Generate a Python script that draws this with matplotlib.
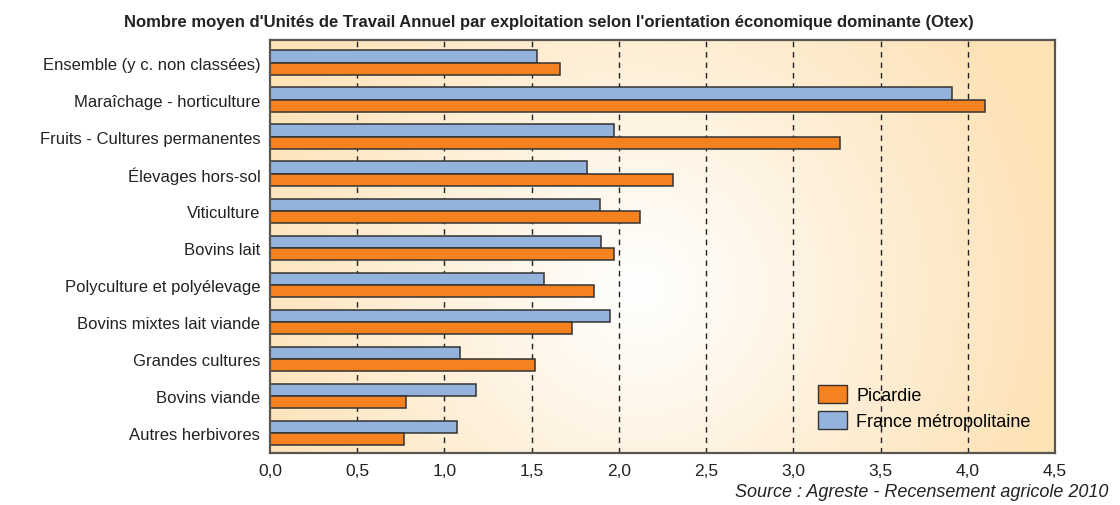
import numpy as np
import matplotlib
matplotlib.use("Agg")
import matplotlib.pyplot as plt
from matplotlib.patches import Patch
from matplotlib.colors import to_rgb

plt.rcParams['font.family'] = ['Liberation Sans Narrow', 'Liberation Sans', 'DejaVu Sans']

# Data
categories = [
    "Ensemble (y c. non classées)",
    "Maraîchage - horticulture",
    "Fruits - Cultures permanentes",
    "Élevages hors-sol",
    "Viticulture",
    "Bovins lait",
    "Polyculture et polyélevage",
    "Bovins mixtes lait viande",
    "Grandes cultures",
    "Bovins viande",
    "Autres herbivores",
]
france = [1.53, 3.91, 1.97, 1.82, 1.89, 1.90, 1.57, 1.95, 1.09, 1.18, 1.07]
picardie = [1.66, 4.10, 3.27, 2.31, 2.12, 1.97, 1.86, 1.73, 1.52, 0.78, 0.77]
xticks = [0, 0.5, 1.0, 1.5, 2.0, 2.5, 3.0, 3.5, 4.0, 4.5]

orange = "#f5821f"
blue = "#94b3dc"
edge = "#333333"

fig = plt.figure(figsize=(11.2, 5.06), dpi=100)
ax = fig.add_axes([270 / 1120, 1 - 454 / 506, 785 / 1120, 413 / 506])

# radial background gradient (white centre, light orange edges)
w, h = 785, 413
xx, yy = np.meshgrid(np.arange(w), np.arange(h))
cx, cy = 0.47 * w, 0.6 * h
d = np.sqrt((xx - cx) ** 2 + (yy - cy) ** 2) / 420.0
t = np.clip(d, 0, 1)
c_out = np.array(to_rgb("#fde2b6"))
img = np.ones((h, w, 3)) * (1 - t[..., None]) + c_out * t[..., None]
ax.imshow(img, extent=[0, 1, 0, 1], transform=ax.transAxes, aspect="auto", zorder=0)

y = np.arange(len(categories))
bh = 0.33
ax.barh(y - bh / 2, france, height=bh, color=blue, edgecolor=edge, linewidth=1.1, zorder=3)
ax.barh(y + bh / 2, picardie, height=bh, color=orange, edgecolor=edge, linewidth=1.1, zorder=3)

ax.set_xlim(0, 4.5)
ax.set_ylim(10.54, -0.61)
ax.set_yticks(y)
ax.set_yticklabels(categories, fontsize=12)
ax.set_xticks(xticks)
ax.set_xticklabels([f"{v:.1f}".replace(".", ",") for v in xticks], fontsize=12.5)
ax.tick_params(axis="both", length=0, pad=7, colors="#222222")
for v in xticks[1:-1]:
    ax.axvline(v, color="#222222", linewidth=1.0, dashes=(4, 3.5), zorder=1)
for s in ax.spines.values():
    s.set_color("#5a5550")
    s.set_linewidth(1.6)
    s.set_zorder(4)

handles = [Patch(facecolor=orange, edgecolor=edge, label="Picardie"),
           Patch(facecolor=blue, edgecolor=edge, label="France métropolitaine")]
leg = ax.legend(handles=handles, loc="upper left", bbox_to_anchor=(0.68, 0.2), frameon=False,
                fontsize=13, handlelength=1.6, handleheight=1.2, handletextpad=0.5,
                labelspacing=0.35, borderpad=0.3)
leg.set_zorder(5)

fig.text(0.49, 0.956, "Nombre moyen d'Unités de Travail Annuel par exploitation selon l'orientation économique dominante (Otex)",
         ha="center", va="center", fontsize=12, fontweight="bold", color="#222222")
fig.text(0.99, 0.026, "Source : Agreste - Recensement agricole 2010", ha="right", va="center",
         fontsize=13, style="italic", color="#222222")

fig.savefig("out.png", dpi=100)
